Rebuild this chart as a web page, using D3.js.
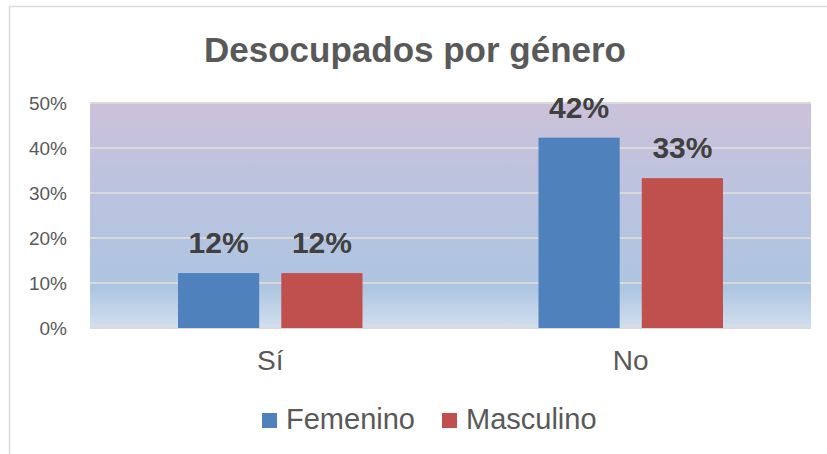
<!DOCTYPE html>
<html>
<head>
<meta charset="utf-8">
<script src="https://cdn.jsdelivr.net/npm/d3@7"></script>
<style>
  body { margin: 0; background: #fff; }
  svg { display: block; font-family: "Liberation Sans", Arial, sans-serif; }
</style>
</head>
<body>
<div id="chart"></div>
<script>
// data
const categories = ['Sí', 'No'];
const series = ['Femenino', 'Masculino'];
const femenino = [0.122, 0.423];
const masculino = [0.122, 0.333];
const yTicks = [0, 0.1, 0.2, 0.3, 0.4, 0.5];
const colors = ['#4F81BD', '#C0504D'];

const width = 827, height = 454;
const margin = { top: 103, right: 16, bottom: 126, left: 90 };
const plotW = width - margin.left - margin.right;
const plotH = height - margin.top - margin.bottom;

const svg = d3.select('#chart')
    .append('svg')
    .attr('width', width)
    .attr('height', height);

// outer chart border (right/bottom edges fall off the picture)
svg.append('rect')
    .attr('x', 9.5).attr('y', 6.5)
    .attr('width', width + 10).attr('height', height + 10)
    .attr('fill', 'none')
    .attr('stroke', '#D9D9D9')
    .attr('stroke-width', 1.5);

const defs = svg.append('defs');
const grad = defs.append('linearGradient')
    .attr('id', 'bg')
    .attr('x1', 0).attr('y1', 0).attr('x2', 0).attr('y2', 1);
grad.append('stop').attr('offset', '0%').attr('stop-color', '#CCC1DA');
grad.append('stop').attr('offset', '45%').attr('stop-color', '#B9C3DF');
grad.append('stop').attr('offset', '82%').attr('stop-color', '#ADC5E1');
grad.append('stop').attr('offset', '100%').attr('stop-color', '#D2DFEE');

const g = svg.append('g')
    .attr('transform', `translate(${margin.left},${margin.top})`);

const y = d3.scaleLinear().domain([0, 0.5]).range([plotH, 0]);
const x0 = d3.scaleBand().domain(categories).range([0, plotW]).padding(0);
const x1 = d3.scaleBand().domain(series)
    .range([88, x0.bandwidth() - 88])
    .paddingInner(0.214).paddingOuter(0);

g.append('rect')
    .attr('width', plotW)
    .attr('height', plotH)
    .attr('fill', 'url(#bg)');

// gridlines
g.selectAll('.grid')
    .data(yTicks)
    .enter()
    .append('line')
    .attr('x1', 0).attr('x2', plotW)
    .attr('y1', d => y(d)).attr('y2', d => y(d))
    .attr('stroke', '#D9D9D9')
    .attr('stroke-width', 2);

// y axis
const yAxis = g.append('g')
    .call(d3.axisLeft(y).tickValues(yTicks).tickFormat(d3.format('.0%')).tickSize(0).tickPadding(23));
yAxis.select('.domain').remove();
yAxis.selectAll('text')
    .attr('font-size', '19px')
    .attr('fill', '#595959');

// x axis
const xAxis = g.append('g')
    .attr('transform', `translate(0,${plotH})`)
    .call(d3.axisBottom(x0).tickSize(0).tickPadding(22));
xAxis.select('.domain').remove();
xAxis.selectAll('text')
    .attr('font-size', '28px')
    .attr('fill', '#595959');

const rows = categories.map((c, i) => ({ cat: c, values: [femenino[i], masculino[i]] }));

const groups = g.selectAll('.grp')
    .data(rows)
    .enter()
    .append('g')
    .attr('transform', d => `translate(${x0(d.cat)},0)`);

groups.selectAll('rect')
    .data(d => d.values.map((v, j) => ({ key: series[j], v: v, j: j })))
    .enter()
    .append('rect')
    .attr('x', d => x1(d.key))
    .attr('y', d => y(d.v))
    .attr('width', x1.bandwidth())
    .attr('height', d => plotH - y(d.v))
    .attr('fill', d => colors[d.j]);

groups.selectAll('.lbl')
    .data(d => d.values.map((v, j) => ({ key: series[j], v: v })))
    .enter()
    .append('text')
    .attr('x', d => x1(d.key) + x1.bandwidth() / 2)
    .attr('y', d => y(d.v) - 20)
    .attr('text-anchor', 'middle')
    .attr('font-size', '30px')
    .attr('font-weight', 'bold')
    .attr('fill', '#404040')
    .text(d => d3.format('.0%')(d.v));

// title
svg.append('text')
    .attr('x', 415)
    .attr('y', 62)
    .attr('text-anchor', 'middle')
    .attr('font-size', '35px')
    .attr('font-weight', 'bold')
    .attr('fill', '#595959')
    .text('Desocupados por género');

// legend
const legendX = [262, 442];
const legend = svg.selectAll('.leg')
    .data(series)
    .enter()
    .append('g')
    .attr('transform', (d, i) => `translate(${legendX[i]},413)`);
legend.append('rect')
    .attr('width', 15).attr('height', 15)
    .attr('fill', (d, i) => colors[i]);
legend.append('text')
    .attr('x', 24)
    .attr('y', 16)
    .attr('font-size', '29px')
    .attr('fill', '#595959')
    .text(d => d);
</script>
</body>
</html>
